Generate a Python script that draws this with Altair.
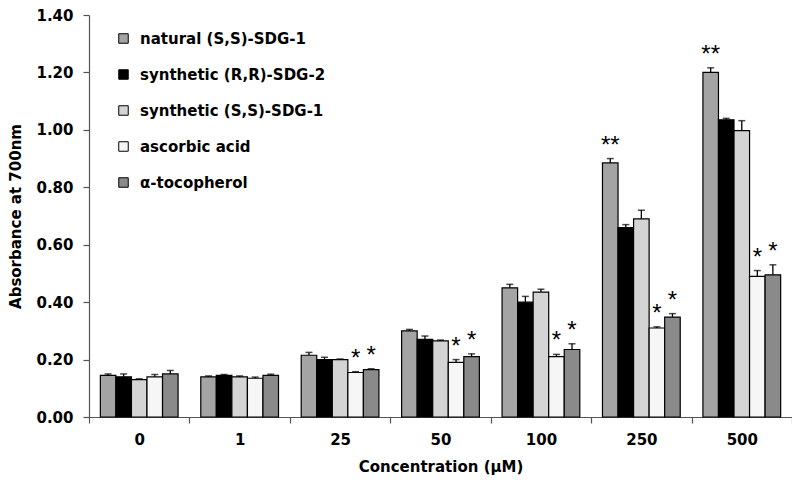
import altair as alt
import pandas as pd

concentrations = ["0", "1", "25", "50", "100", "250", "500"]
series = [
    "natural (S,S)-SDG-1",
    "synthetic (R,R)-SDG-2",
    "synthetic (S,S)-SDG-1",
    "ascorbic acid",
    "α-tocopherol",
]
colors = ["#a4a4a4", "#000000", "#d4d4d4", "#f6f6f6", "#8a8a8a"]

values = {
    "natural (S,S)-SDG-1":   [0.145, 0.140, 0.215, 0.300, 0.450, 0.885, 1.200],
    "synthetic (R,R)-SDG-2": [0.140, 0.145, 0.200, 0.270, 0.400, 0.660, 1.035],
    "synthetic (S,S)-SDG-1": [0.130, 0.140, 0.200, 0.265, 0.435, 0.690, 0.997],
    "ascorbic acid":         [0.140, 0.135, 0.155, 0.190, 0.210, 0.310, 0.490],
    "α-tocopherol":          [0.150, 0.145, 0.165, 0.210, 0.235, 0.348, 0.495],
}
errors = {
    "natural (S,S)-SDG-1":   [0.005, 0.003, 0.010, 0.005, 0.012, 0.015, 0.016],
    "synthetic (R,R)-SDG-2": [0.010, 0.003, 0.008, 0.012, 0.020, 0.010, 0.005],
    "synthetic (S,S)-SDG-1": [0.003, 0.003, 0.002, 0.003, 0.010, 0.030, 0.035],
    "ascorbic acid":         [0.008, 0.004, 0.003, 0.010, 0.008, 0.004, 0.020],
    "α-tocopherol":          [0.012, 0.004, 0.003, 0.010, 0.020, 0.012, 0.035],
}
stars = {
    "natural (S,S)-SDG-1":   ["", "", "", "", "", "**", "**"],
    "synthetic (R,R)-SDG-2": ["", "", "", "", "", "", ""],
    "synthetic (S,S)-SDG-1": ["", "", "", "", "", "", ""],
    "ascorbic acid":         ["", "", "*", "*", "*", "*", "*"],
    "α-tocopherol":          ["", "", "*", "*", "*", "*", "*"],
}

rows = []
for s in series:
    for i, c in enumerate(concentrations):
        rows.append({
            "conc": c,
            "series": s,
            "value": values[s][i],
            "top": values[s][i] + errors[s][i],
            "star": stars[s][i],
        })
df = pd.DataFrame(rows)

FONT = "DejaVu Sans"

x = alt.X("conc:N", sort=concentrations,
          scale=alt.Scale(paddingInner=0, paddingOuter=0),
          axis=alt.Axis(title="Concentration (µM)", labelAngle=0, tickBand="extent",
                        labelPadding=9, titlePadding=12, tickSize=6))
xo = alt.XOffset("series:N", sort=series,
                 scale=alt.Scale(paddingOuter=0.73, paddingInner=0))

base = alt.Chart(df)

bars = base.mark_bar(stroke="#000000", strokeWidth=1.2).encode(
    x=x,
    xOffset=xo,
    y=alt.Y("value:Q", scale=alt.Scale(domain=[0, 1.4]),
            axis=alt.Axis(title="Absorbance at 700nm", values=[0, 0.2, 0.4, 0.6, 0.8, 1.0, 1.2, 1.4],
                          format=".2f", tickSize=6, labelPadding=10, titlePadding=12)),
    fill=alt.Fill("series:N", sort=series,
                  scale=alt.Scale(domain=series, range=colors),
                  legend=alt.Legend(title=None, orient="none", legendX=27, legendY=16,
                                    symbolType="square", symbolSize=90,
                                    symbolStrokeColor="#000000", symbolStrokeWidth=1,
                                    labelFontSize=15, labelFont=FONT, labelFontWeight="bold",
                                    labelColor="#000000",
                                    rowPadding=20, labelOffset=9, padding=0,
                                    labelLimit=400)),
)

err_rule = base.mark_rule(color="#000000", strokeWidth=1.3).encode(
    x=x, xOffset=xo, y="value:Q", y2="top:Q")

err_cap = base.mark_tick(color="#000000", thickness=1.5, size=7, orient="horizontal").encode(
    x=x, xOffset=xo, y="top:Q")

star_text = base.mark_text(fontSize=24, font="Liberation Sans", color="#000000",
                           baseline="middle", dy=-13).encode(
    x=x, xOffset=xo, y="top:Q", text="star:N")

chart = alt.layer(bars, err_rule, err_cap, star_text).properties(
    width=703, height=402,
    autosize=alt.AutoSizeParams(type="none"),
    padding={"left": 81, "top": 7, "right": 0, "bottom": 64},
).configure_view(stroke=None).configure_axis(
    labelFont=FONT, titleFont=FONT, labelFontSize=15, titleFontSize=15,
    labelFontWeight="bold", titleFontWeight="bold", labelColor="#000000", titleColor="#000000",
    domainColor="#555555", tickColor="#555555", grid=False, domainWidth=1.2, tickWidth=1.2,
)

chart.save("out.html", embed_options={"renderer": "svg", "actions": False})
